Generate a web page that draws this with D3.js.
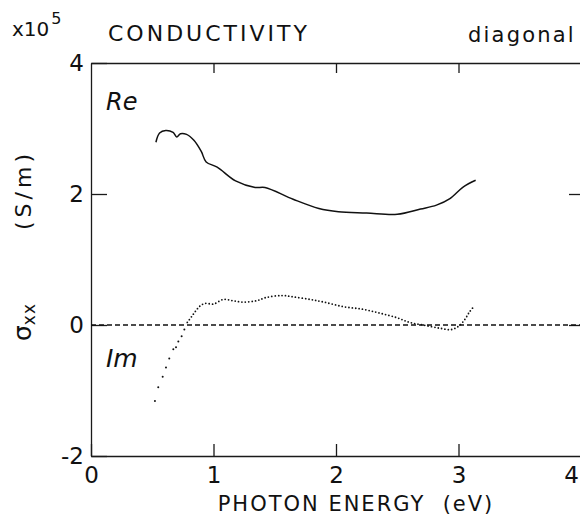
<!DOCTYPE html>
<html lang="en">
<head>
    <meta charset="UTF-8">
    <title>Conductivity diagonal</title>
    <style>
        body { margin: 0; background: #fff; }
        text { font-family: "DejaVu Sans", sans-serif; fill: #111; }
    </style>
</head>
<body>
    <svg id="chart" width="580" height="515"></svg>
    <script src="https://d3js.org/d3.v7.min.js"></script>
    <script>
        // photon energy (eV) and sigma_xx (x10^5 S/m)
        var reEnergy = [0.53, 0.56, 0.61, 0.67, 0.70, 0.73, 0.78, 0.84, 0.90, 0.94, 1.03, 1.18, 1.34, 1.42, 1.65, 1.86, 2.02, 2.25, 2.50, 2.69, 2.82, 2.93, 3.04, 3.14];
        var reValues = [2.79, 2.93, 2.97, 2.94, 2.87, 2.92, 2.91, 2.82, 2.65, 2.49, 2.41, 2.20, 2.10, 2.10, 1.92, 1.78, 1.73, 1.71, 1.69, 1.77, 1.83, 1.93, 2.11, 2.21];

        // sparse measured points on the steep rise
        var imDotEnergy = [0.522, 0.549, 0.585, 0.612, 0.639, 0.672, 0.694, 0.713, 0.740, 0.762];
        var imDotValues = [-1.16, -0.95, -0.79, -0.65, -0.51, -0.37, -0.34, -0.25, -0.17, -0.07];

        // dense part, drawn as a dotted line
        var imEnergy = [0.786, 0.822, 0.857, 0.890, 0.931, 1.00, 1.08, 1.16, 1.24, 1.35, 1.43, 1.56, 1.65, 1.79, 1.90, 2.06, 2.22, 2.36, 2.50, 2.60, 2.71, 2.85, 2.94, 3.00, 3.05, 3.09, 3.12];
        var imValues = [0.04, 0.13, 0.22, 0.29, 0.33, 0.32, 0.39, 0.37, 0.35, 0.37, 0.42, 0.45, 0.43, 0.39, 0.35, 0.28, 0.24, 0.18, 0.11, 0.04, 0.00, -0.05, -0.07, -0.02, 0.08, 0.20, 0.27];

        var xTicks = [0, 1, 2, 3, 4];
        var yTicks = [-2, 0, 2, 4];

        var svg = d3.select("#chart");

        var x = d3.scaleLinear().domain([0, 4]).range([91, 581]);
        var y = d3.scaleLinear().domain([-2, 4]).range([456, 63]);

        // frame + ticks
        var bottom = svg.append("g")
            .attr("transform", "translate(0," + y(-2) + ")")
            .call(d3.axisBottom(x).tickValues(xTicks).tickSizeInner(-12).tickSizeOuter(0).tickPadding(11)
                .tickFormat(d3.format("d")));
        // last label sits on the page edge, nudge it in
        bottom.selectAll(".tick text").filter(function(d) { return d === 4; }).attr("dx", -10);

        var left = svg.append("g")
            .attr("transform", "translate(" + x(0) + ",0)")
            .call(d3.axisLeft(y).tickValues(yTicks).tickSizeInner(-16).tickSizeOuter(0).tickPadding(7)
                .tickFormat(function(d) { return d < 0 ? "-" + Math.abs(d) : d; }));

        svg.append("g")
            .attr("transform", "translate(0," + y(4) + ")")
            .call(d3.axisTop(x).tickValues([1, 2, 3]).tickSizeInner(-10).tickSizeOuter(0).tickFormat(""));

        svg.append("g")
            .attr("transform", "translate(" + x(4) + ",0)")
            .call(d3.axisRight(y).tickValues([0, 2]).tickSizeInner(-12).tickSizeOuter(0).tickFormat(""));

        svg.selectAll(".domain, .tick line")
            .attr("stroke", "#1a1a1a")
            .attr("stroke-width", 1.3);
        svg.selectAll(".tick text")
            .style("font-size", "23px")
            .attr("fill", "#111");

        // zero reference line
        svg.append("line")
            .attr("x1", x(0)).attr("x2", x(4))
            .attr("y1", y(0)).attr("y2", y(0))
            .attr("stroke", "#111")
            .attr("stroke-width", 1.3)
            .attr("stroke-dasharray", "5,3");

        var line = d3.line()
            .x(function(d) { return x(d[0]); })
            .y(function(d) { return y(d[1]); })
            .curve(d3.curveCatmullRom);

        // Re
        svg.append("path")
            .datum(d3.zip(reEnergy, reValues))
            .attr("d", line)
            .attr("fill", "none")
            .attr("stroke", "#111")
            .attr("stroke-width", 1.5);

        // Im
        svg.append("path")
            .datum(d3.zip(imEnergy, imValues))
            .attr("d", line)
            .attr("fill", "none")
            .attr("stroke", "#111")
            .attr("stroke-width", 1.8)
            .attr("stroke-linecap", "round")
            .attr("stroke-dasharray", "0,3.4");

        svg.selectAll(".imdot")
            .data(d3.zip(imDotEnergy, imDotValues))
            .enter().append("circle")
            .attr("class", "imdot")
            .attr("cx", function(d) { return x(d[0]); })
            .attr("cy", function(d) { return y(d[1]); })
            .attr("r", 1)
            .attr("fill", "#111");

        // curve labels
        svg.append("text")
            .attr("x", 106).attr("y", 110)
            .style("font-size", "24px").style("font-style", "italic")
            .text("Re");
        svg.append("text")
            .attr("x", 106).attr("y", 367)
            .style("font-size", "25px").style("font-style", "italic")
            .text("Im");

        // titles
        svg.append("text")
            .attr("x", 108).attr("y", 41)
            .style("font-size", "22px").style("letter-spacing", "3px")
            .text("CONDUCTIVITY");
        svg.append("text")
            .attr("x", 468).attr("y", 42)
            .style("font-size", "21px").style("letter-spacing", "2.2px")
            .text("diagonal");

        var mult = svg.append("text").attr("x", 12).attr("y", 36).style("font-size", "20px");
        mult.append("tspan").text("x10");
        mult.append("tspan").attr("dx", 2).attr("dy", -12).style("font-size", "16px").text("5");

        // axis titles
        svg.append("text")
            .attr("x", 356).attr("y", 511)
            .attr("text-anchor", "middle")
            .attr("xml:space", "preserve")
            .style("font-size", "21px").style("letter-spacing", "2px")
            .text("PHOTON ENERGY  (eV)");

        svg.append("text")
            .attr("transform", "translate(31,190) rotate(-90)")
            .attr("text-anchor", "middle")
            .style("font-size", "22px").style("letter-spacing", "4px")
            .text("(S/m)");

        var sig = svg.append("text")
            .attr("transform", "translate(31,322) rotate(-90)")
            .attr("text-anchor", "middle")
            .style("font-size", "25px");
        sig.append("tspan").text("σ");
        sig.append("tspan").attr("dy", 4).style("font-size", "17px").style("letter-spacing", "1px").text("xx");
    </script>
</body>
</html>
